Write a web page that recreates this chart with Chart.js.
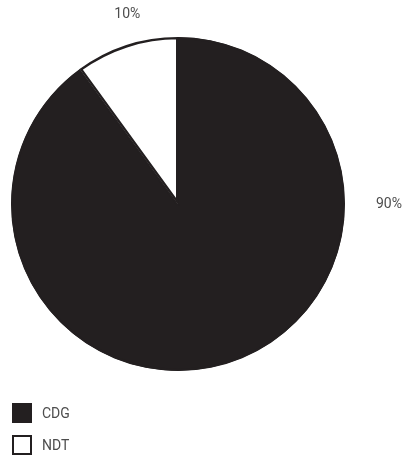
<!DOCTYPE html>
<html>
<head>
<meta charset="utf-8">
<script src="https://cdn.jsdelivr.net/npm/chart.js@4/dist/chart.umd.min.js"></script>
<style>
  body { margin: 0; background: #fff; }
  .wrap { position: relative; width: 405px; height: 459px; }
  #shareChart { position: absolute; left: 0; top: 0; }
  .legend { position: absolute; left: 12px; top: 403px; font-family: Roboto, "DejaVu Sans", sans-serif; font-size: 14px; color: #4d4d4d; }
  .legend .item { display: flex; align-items: center; height: 20px; margin-bottom: 12px; }
  .legend .box { width: 16px; height: 16px; border: 2px solid #231f20; margin-right: 10px; }
</style>
</head>
<body>
<div class="wrap">
  <canvas id="shareChart" width="405" height="459"></canvas>
  <div class="legend" id="legend"></div>
</div>
<script>
const categories = ['CDG', 'NDT'];
const shares = [90, 10];
const fills = ['#231f20', '#ffffff'];

// outside labels: angle (deg, 0 = right) and distance from the centre
const labelSpots = [{ angle: 0, dist: 211 }, { angle: -105, dist: 196 }];

const outsideLabels = {
  id: 'outsideLabels',
  afterDatasetsDraw(chart) {
    const ctx = chart.ctx;
    const meta = chart.getDatasetMeta(0);
    ctx.save();
    ctx.font = '14px Roboto, "DejaVu Sans", sans-serif';
    ctx.fillStyle = '#4d4d4d';
    ctx.textAlign = 'center';
    ctx.textBaseline = 'middle';
    meta.data.forEach((arc, i) => {
      const spot = labelSpots[i];
      const a = spot.angle * Math.PI / 180;
      const x = arc.x + Math.cos(a) * spot.dist;
      const y = arc.y + Math.sin(a) * spot.dist;
      ctx.fillText(shares[i] + '%', x, y);
    });
    ctx.restore();
  }
};

const ctx = document.getElementById('shareChart').getContext('2d');
const shareChart = new Chart(ctx, {
  type: 'pie',
  data: {
    labels: categories,
    datasets: [{
      data: shares,
      backgroundColor: fills,
      borderColor: '#231f20',
      borderWidth: 2,
      borderAlign: 'inner'
    }]
  },
  options: {
    responsive: false,
    animation: false,
    layout: { padding: { left: 11, right: 60, top: 37, bottom: 88 } },
    plugins: {
      legend: { display: false },
      tooltip: { enabled: false }
    }
  },
  plugins: [outsideLabels]
});

const legendEl = document.getElementById('legend');
Chart.overrides.pie.plugins.legend.labels.generateLabels(shareChart).forEach(item => {
  const row = document.createElement('div');
  row.className = 'item';
  const box = document.createElement('span');
  box.className = 'box';
  box.style.background = item.fillStyle;
  const txt = document.createElement('span');
  txt.textContent = item.text;
  row.appendChild(box);
  row.appendChild(txt);
  legendEl.appendChild(row);
});
</script>
</body>
</html>
